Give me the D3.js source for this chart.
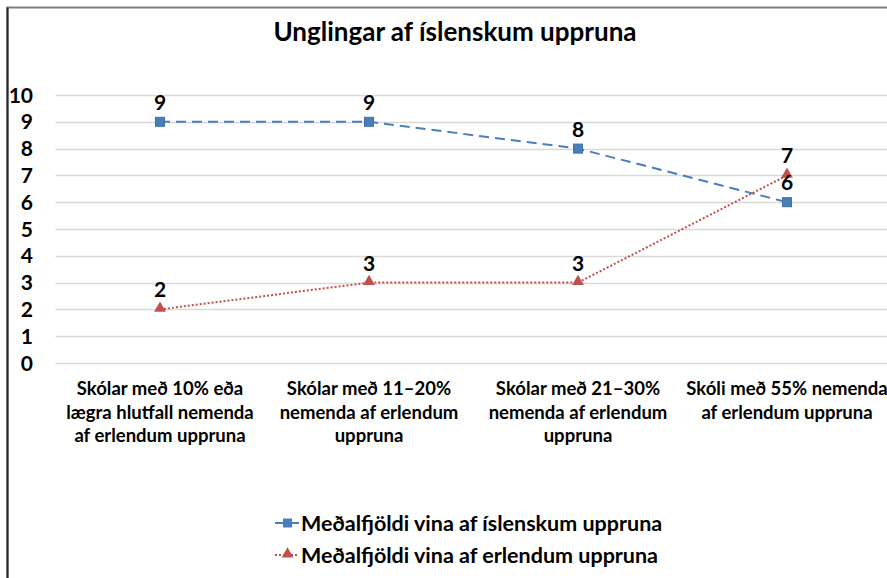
<!DOCTYPE html>
<html lang="is">
<head>
    <meta charset="UTF-8">
    <title>Unglingar af íslenskum uppruna</title>
    <script src="https://d3js.org/d3.v7.min.js"></script>
    <style>
        body { margin: 0; background: #fff; }
        svg text { font-family: Lato, "Open Sans", sans-serif; font-weight: bold; fill: #000; }
    </style>
</head>
<body>
    <div id="chart"></div>
    <script>
        // chart data
        const categories = [
            ["Skólar með 10% eða", "lægra hlutfall nemenda", "af erlendum uppruna"],
            ["Skólar með 11–20%", "nemenda af erlendum", "uppruna"],
            ["Skólar með 21–30%", "nemenda af erlendum", "uppruna"],
            ["Skóli með 55% nemenda", "af erlendum uppruna"]
        ];
        const islenskir = [9, 9, 8, 6];
        const erlendir = [2, 3, 3, 7];
        const seriesNames = ["Meðalfjöldi vina af íslenskum uppruna", "Meðalfjöldi vina af erlendum uppruna"];
        const yTicks = [0, 1, 2, 3, 4, 5, 6, 7, 8, 9, 10];

        const width = 887, height = 578;
        const left = 55.5, bandW = 209;

        const svg = d3.select("#chart").append("svg")
            .attr("width", width)
            .attr("height", height);

        // outer frame (cut on right and bottom like the screenshot)
        svg.append("path")
            .attr("d", `M7.5,${height} V7.5 H${width}`)
            .attr("fill", "none")
            .attr("stroke", "#7f7f7f")
            .attr("stroke-width", 2);
        svg.append("line")
            .attr("x1", 7.5).attr("x2", 7.5).attr("y1", 7.5).attr("y2", height)
            .attr("stroke", "#262626").attr("stroke-width", 2);

        svg.append("text")
            .attr("x", 455).attr("y", 41)
            .attr("text-anchor", "middle")
            .attr("font-size", "26px")
            .text("Unglingar af íslenskum uppruna");

        const x = d3.scaleBand()
            .domain(d3.range(categories.length))
            .range([left, left + bandW * categories.length]);
        const cx = i => x(i) + x.bandwidth() / 2;

        const y = d3.scaleLinear().domain([0, 10]).range([363, 95]);

        // gridlines
        svg.append("g")
            .selectAll("line")
            .data(yTicks)
            .join("line")
            .attr("x1", left).attr("x2", width)
            .attr("y1", d => Math.round(y(d)) + 0.5)
            .attr("y2", d => Math.round(y(d)) + 0.5)
            .attr("stroke", "#d9d9d9")
            .attr("stroke-width", 1.5);

        // y axis labels
        svg.append("g")
            .selectAll("text")
            .data(yTicks)
            .join("text")
            .attr("x", 33)
            .attr("y", d => y(d) + 7.5)
            .attr("text-anchor", "end")
            .attr("font-size", "21px")
            .text(d => d);

        // category labels
        const catG = svg.append("g")
            .selectAll("text")
            .data(categories)
            .join("text")
            .attr("text-anchor", "middle")
            .attr("font-size", "18.5px");
        catG.selectAll("tspan")
            .data((d, i) => d.map(s => ({ s, i })))
            .join("tspan")
            .attr("x", d => cx(d.i))
            .attr("y", (d, j) => 395 + j * 23.5)
            .text(d => d.s);

        const line = d3.line().x((d, i) => cx(i)).y(d => y(d));

        // series 1: blue dashed, square markers
        svg.append("path")
            .datum(islenskir)
            .attr("d", line)
            .attr("fill", "none")
            .attr("stroke", "#4a7ebb")
            .attr("stroke-width", 2)
            .attr("stroke-dasharray", "10,6");
        svg.append("g")
            .selectAll("rect")
            .data(islenskir)
            .join("rect")
            .attr("x", (d, i) => cx(i) - 4.5)
            .attr("y", d => y(d) - 4.5)
            .attr("width", 9).attr("height", 9)
            .attr("fill", "#4a7ebb")
            .attr("stroke", "#3f6ea8");

        // series 2: red dotted, triangle markers
        svg.append("path")
            .datum(erlendir)
            .attr("d", line)
            .attr("fill", "none")
            .attr("stroke", "#c0504d")
            .attr("stroke-width", 2)
            .attr("stroke-dasharray", "2,2");
        const tri = d3.symbol().type(d3.symbolTriangle).size(60);
        svg.append("g")
            .selectAll("path")
            .data(erlendir)
            .join("path")
            .attr("transform", (d, i) => `translate(${cx(i)},${y(d) - 1})`)
            .attr("d", tri)
            .attr("fill", "#c0504d");

        // data labels
        [islenskir, erlendir].forEach(vals => {
            svg.append("g")
                .selectAll("text")
                .data(vals)
                .join("text")
                .attr("x", (d, i) => cx(i))
                .attr("y", d => y(d) - 12)
                .attr("text-anchor", "middle")
                .attr("font-size", "21px")
                .text(d => d);
        });

        // legend
        const legend = svg.append("g")
            .selectAll("g")
            .data(seriesNames)
            .join("g")
            .attr("transform", (d, i) => `translate(275,${523 + i * 32})`);
        legend.append("line")
            .attr("x1", 0).attr("x2", 24)
            .attr("stroke", (d, i) => i === 0 ? "#4a7ebb" : "#c0504d")
            .attr("stroke-width", 2)
            .attr("stroke-dasharray", (d, i) => i === 0 ? "10,6" : "2,2");
        legend.filter((d, i) => i === 0).append("rect")
            .attr("x", 8).attr("y", -4.5).attr("width", 9).attr("height", 9)
            .attr("fill", "#4a7ebb");
        legend.filter((d, i) => i === 1).append("path")
            .attr("transform", "translate(12.5,-1)")
            .attr("d", tri)
            .attr("fill", "#c0504d");
        legend.append("text")
            .attr("x", 26)
            .attr("y", 7.5)
            .attr("font-size", "21.5px")
            .text(d => d);
    </script>
</body>
</html>
